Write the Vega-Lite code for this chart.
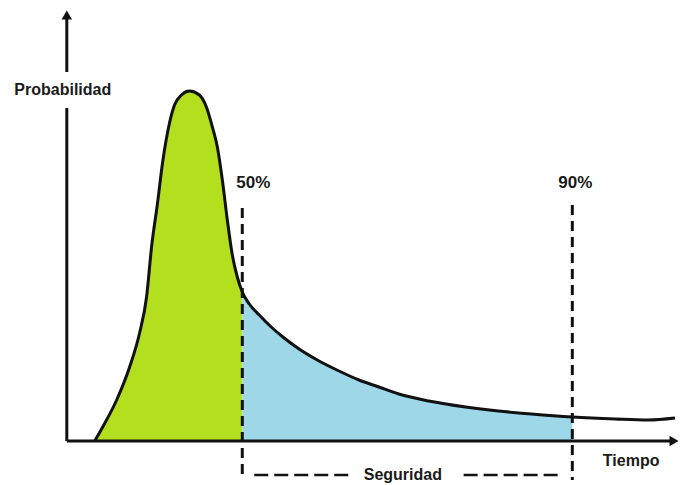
{
  "$schema": "https://vega.github.io/schema/vega-lite/v6.json",
  "width": 681,
  "height": 485,
  "autosize": {"type": "fit", "contains": "padding"},
  "padding": 0,
  "background": "white",
  "config": {"view": {"stroke": null}},
  "datasets": {
    "curva": [
      {"t": 95, "p": 44, "zona": "verde"},
      {"t": 103, "p": 58, "zona": "verde"},
      {"t": 117, "p": 85, "zona": "verde"},
      {"t": 130, "p": 118, "zona": "verde"},
      {"t": 140, "p": 152, "zona": "verde"},
      {"t": 147, "p": 188, "zona": "verde"},
      {"t": 152, "p": 238, "zona": "verde"},
      {"t": 158, "p": 282, "zona": "verde"},
      {"t": 163, "p": 322, "zona": "verde"},
      {"t": 170, "p": 362, "zona": "verde"},
      {"t": 175, "p": 380, "zona": "verde"},
      {"t": 182, "p": 390, "zona": "verde"},
      {"t": 190, "p": 394, "zona": "verde"},
      {"t": 200, "p": 390, "zona": "verde"},
      {"t": 207, "p": 378, "zona": "verde"},
      {"t": 213, "p": 358, "zona": "verde"},
      {"t": 218, "p": 338, "zona": "verde"},
      {"t": 223, "p": 305, "zona": "verde"},
      {"t": 228, "p": 265, "zona": "verde"},
      {"t": 233, "p": 230, "zona": "verde"},
      {"t": 238, "p": 208, "zona": "verde"},
      {"t": 243, "p": 193, "zona": "verde"},
      {"t": 243, "p": 193, "zona": "azul"},
      {"t": 250, "p": 181, "zona": "azul"},
      {"t": 260, "p": 170, "zona": "azul"},
      {"t": 272, "p": 158, "zona": "azul"},
      {"t": 285, "p": 147, "zona": "azul"},
      {"t": 300, "p": 136, "zona": "azul"},
      {"t": 320, "p": 124, "zona": "azul"},
      {"t": 340, "p": 114, "zona": "azul"},
      {"t": 360, "p": 105, "zona": "azul"},
      {"t": 380, "p": 98, "zona": "azul"},
      {"t": 400, "p": 91, "zona": "azul"},
      {"t": 430, "p": 84, "zona": "azul"},
      {"t": 467, "p": 78, "zona": "azul"},
      {"t": 500, "p": 74, "zona": "azul"},
      {"t": 533, "p": 71, "zona": "azul"},
      {"t": 574, "p": 68, "zona": "azul"},
      {"t": 574, "p": 68, "zona": "cola"},
      {"t": 617, "p": 66, "zona": "cola"},
      {"t": 650, "p": 65, "zona": "cola"},
      {"t": 677, "p": 67, "zona": "cola"}
    ],
    "ejes": [
      {"t": 67, "t2": 67, "p": 413, "p2": 466},
      {"t": 67, "t2": 67, "p": 44, "p2": 377},
      {"t": 67, "t2": 672, "p": 44, "p2": 44}
    ],
    "flechas": [
      {"t": 67, "p": 470, "forma": "triangle-up"},
      {"t": 676, "p": 44, "forma": "triangle-right"}
    ],
    "verticales": [
      {"t": 243, "t2": 243, "p": 277, "p2": 5},
      {"t": 574, "t2": 574, "p": 280, "p2": 5}
    ],
    "horizontales": [
      {"t": 255, "t2": 350, "p": 10, "p2": 10},
      {"t": 465, "t2": 560, "p": 10, "p2": 10}
    ],
    "palabras": [
      {"t": 63, "p": 395, "texto": "Probabilidad"},
      {"t": 633, "p": 24, "texto": "Tiempo"},
      {"t": 404, "p": 10, "texto": "Seguridad"}
    ],
    "porcentajes": [
      {"t": 254, "p": 302, "texto": "50%"},
      {"t": 577, "p": 302, "texto": "90%"}
    ]
  },
  "layer": [
    {
      "data": {"name": "curva"},
      "transform": [{"filter": "datum.zona === 'verde'"}],
      "mark": {"type": "area", "color": "#b4df1e", "opacity": 1, "interpolate": "monotone"},
      "encoding": {
        "x": {"field": "t", "type": "quantitative", "scale": {"domain": [0, 681], "nice": false, "zero": false}, "axis": null},
        "y": {"field": "p", "type": "quantitative", "stack": null, "scale": {"domain": [0, 485], "nice": false}, "axis": null},
        "y2": {"datum": 44}
      }
    },
    {
      "data": {"name": "curva"},
      "transform": [{"filter": "datum.zona === 'azul'"}],
      "mark": {"type": "area", "color": "#9dd7e8", "opacity": 1, "interpolate": "monotone"},
      "encoding": {
        "x": {"field": "t", "type": "quantitative"},
        "y": {"field": "p", "type": "quantitative", "stack": null},
        "y2": {"datum": 44}
      }
    },
    {
      "data": {"name": "curva"},
      "mark": {"type": "line", "color": "#111111", "strokeWidth": 3, "interpolate": "monotone"},
      "encoding": {
        "x": {"field": "t", "type": "quantitative"},
        "y": {"field": "p", "type": "quantitative"}
      }
    },
    {
      "data": {"name": "ejes"},
      "mark": {"type": "rule", "color": "#111111", "strokeWidth": 3},
      "encoding": {
        "x": {"field": "t", "type": "quantitative"},
        "x2": {"field": "t2"},
        "y": {"field": "p", "type": "quantitative"},
        "y2": {"field": "p2"}
      }
    },
    {
      "data": {"name": "flechas"},
      "mark": {"type": "point", "filled": true, "color": "#111111", "size": 110, "opacity": 1},
      "encoding": {
        "x": {"field": "t", "type": "quantitative"},
        "y": {"field": "p", "type": "quantitative"},
        "shape": {"field": "forma", "type": "nominal", "scale": null}
      }
    },
    {
      "data": {"name": "verticales"},
      "mark": {"type": "rule", "color": "#111111", "strokeWidth": 3, "strokeDash": [10, 6]},
      "encoding": {
        "x": {"field": "t", "type": "quantitative"},
        "y": {"field": "p", "type": "quantitative"},
        "y2": {"field": "p2"}
      }
    },
    {
      "data": {"name": "horizontales"},
      "mark": {"type": "rule", "color": "#111111", "strokeWidth": 2.5, "strokeDash": [14, 6]},
      "encoding": {
        "x": {"field": "t", "type": "quantitative"},
        "x2": {"field": "t2"},
        "y": {"field": "p", "type": "quantitative"}
      }
    },
    {
      "data": {"name": "palabras"},
      "mark": {"type": "text", "font": "Liberation Sans", "fontWeight": "bold", "fontSize": 16, "color": "#1a1a1a", "align": "center", "baseline": "middle"},
      "encoding": {
        "x": {"field": "t", "type": "quantitative"},
        "y": {"field": "p", "type": "quantitative"},
        "text": {"field": "texto"}
      }
    },
    {
      "data": {"name": "porcentajes"},
      "mark": {"type": "text", "font": "Liberation Sans", "fontWeight": "bold", "fontSize": 17, "color": "#1a1a1a", "align": "center", "baseline": "middle"},
      "encoding": {
        "x": {"field": "t", "type": "quantitative"},
        "y": {"field": "p", "type": "quantitative"},
        "text": {"field": "texto"}
      }
    }
  ]
}
